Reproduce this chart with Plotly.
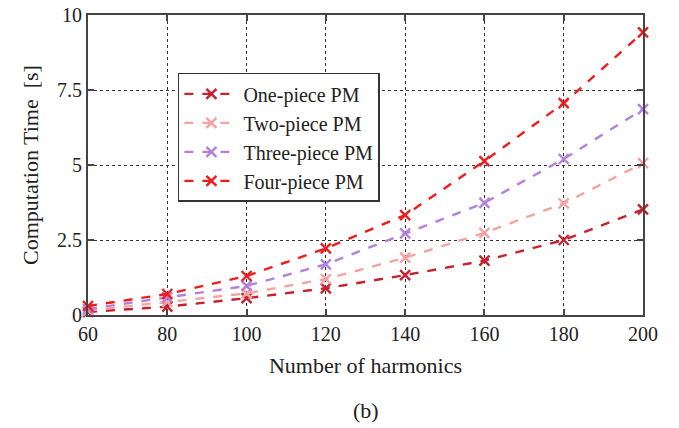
import plotly.graph_objects as go

harmonics = [60, 80, 100, 120, 140, 160, 180, 200]
one_piece = [0.10, 0.28, 0.56, 0.89, 1.33, 1.81, 2.50, 3.52]
two_piece = [0.15, 0.44, 0.72, 1.20, 1.91, 2.74, 3.72, 5.06]
three_piece = [0.20, 0.59, 0.97, 1.69, 2.72, 3.74, 5.20, 6.86]
four_piece = [0.30, 0.70, 1.30, 2.22, 3.33, 5.13, 7.06, 9.42]
y_ticks = [0, 2.5, 5, 7.5, 10]
y_labels = ["0", "2.5", "5", "7.5", "10"]

series = [
    ("One-piece PM", one_piece, "#c8202c"),
    ("Two-piece PM", two_piece, "#f4a3a3"),
    ("Three-piece PM", three_piece, "#b380dc"),
    ("Four-piece PM", four_piece, "#ee1c1c"),
]

font_family = "Liberation Serif, Times New Roman, serif"

fig = go.Figure()
for name, vals, color in series:
    fig.add_trace(go.Scatter(
        x=harmonics, y=vals, name=name, mode="lines+markers",
        line=dict(color=color, width=2.4, dash="dash"),
        marker=dict(symbol="x-thin", size=10, line=dict(color=color, width=2.4)),
        cliponaxis=False,
    ))

fig.update_layout(
    template="none",
    width=679, height=428,
    margin=dict(l=88, r=36, t=15, b=113, pad=0),
    plot_bgcolor="white", paper_bgcolor="white",
    font=dict(family=font_family, size=20, color="#222"),
    showlegend=True,
    legend=dict(
        x=0.162, y=0.807, xanchor="left", yanchor="top",
        bgcolor="white", bordercolor="#333", borderwidth=1.5,
        font=dict(family=font_family, size=20, color="#222"),
        tracegroupgap=0, itemwidth=54,
    ),
    annotations=[dict(
        text="(b)", x=0.5, y=-0.317, xref="paper", yref="paper",
        showarrow=False, font=dict(family=font_family, size=22, color="#222"),
        xanchor="center", yanchor="middle",
    )],
)

fig.update_xaxes(
    range=[60, 200], tickvals=harmonics, ticktext=[str(h) for h in harmonics],
    showgrid=True, gridcolor="#333", griddash="dot", gridwidth=1,
    showline=True, linecolor="#444", linewidth=2, mirror="ticks",
    ticks="inside", ticklen=6, tickcolor="#444", tickwidth=1.5,
    zeroline=False, automargin=False,
    tickfont=dict(size=20),
    title=dict(text="Number of harmonics", standoff=14, font=dict(size=22)),
)
fig.update_yaxes(
    range=[0, 10], tickvals=y_ticks, ticktext=y_labels,
    showgrid=True, gridcolor="#333", griddash="dot", gridwidth=1,
    showline=True, linecolor="#444", linewidth=2, mirror="ticks",
    ticks="inside", ticklen=6, tickcolor="#444", tickwidth=1.5,
    zeroline=False, automargin=False,
    tickfont=dict(size=20),
    title=dict(text="Computation Time  [s]", standoff=12, font=dict(size=22)),
)

fig.write_html("out.html", config={"displayModeBar": False},
               post_script="document.body.style.margin='0';")
